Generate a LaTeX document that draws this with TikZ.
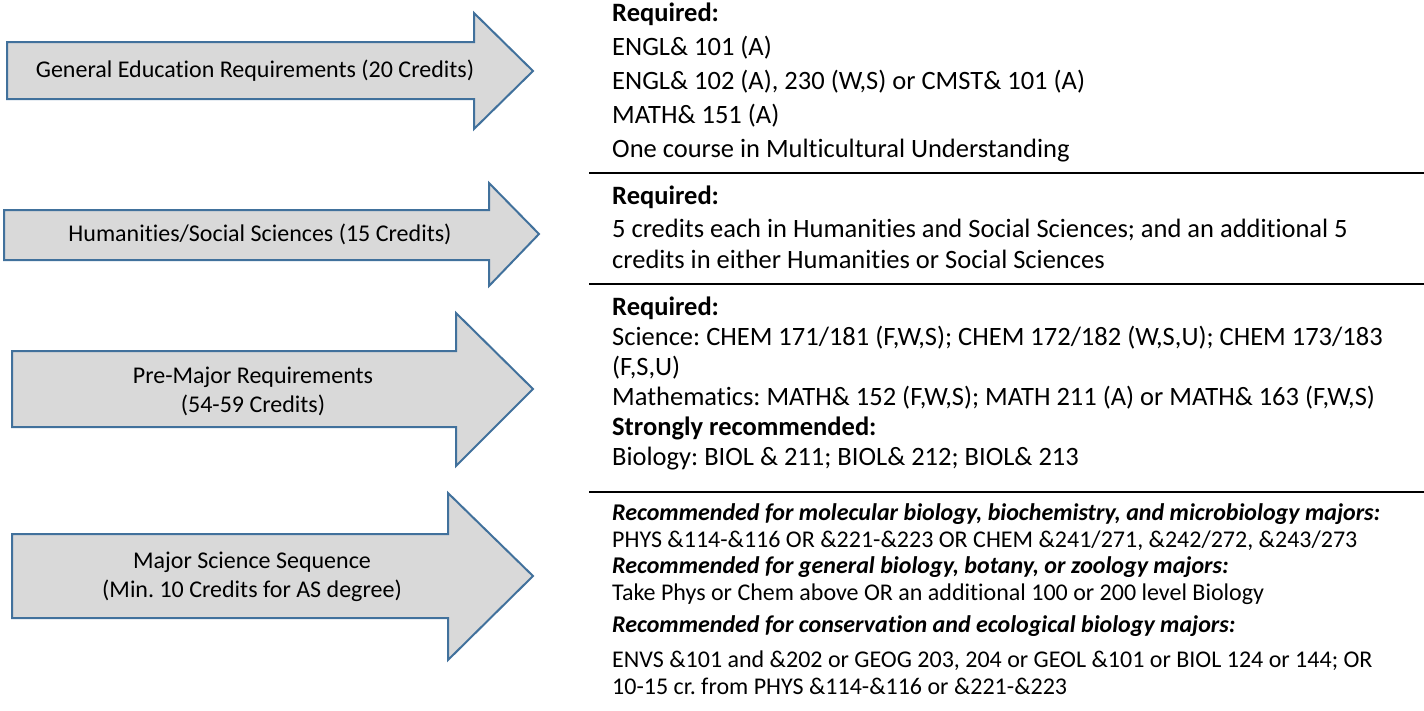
\documentclass[tikz,border=0pt]{standalone}
\usepackage{fontspec}
\setmainfont{Carlito}[Ligatures=CommonOff]
\usepackage{tikz}
\frenchspacing

\definecolor{arrowfill}{HTML}{D9D9D9}
\definecolor{arrowline}{HTML}{41719C}

\tikzset{
  reqarrow/.style={draw=arrowline, fill=arrowfill, line width=2pt, line join=miter},
  arrowtext/.style={align=center, inner sep=0pt, font=\fontsize{24}{29}\selectfont},
  reqtext/.style={anchor=base west, inner sep=0pt, font=\fontsize{26.5}{32}\selectfont},
  majortext/.style={anchor=base west, inner sep=0pt, font=\fontsize{24}{27}\selectfont},
  sepline/.style={line width=2.5pt}
}

\begin{document}
\begin{tikzpicture}[x=1pt,y=-1pt]
            \useasboundingbox (0,0) rectangle (1424,710);
            % arrows
            \draw [reqarrow] (7,42) -- (474,42) -- (474,13) -- (533,71) -- (474,129) -- (474,99) -- (7,99) -- cycle;
            \draw [reqarrow] (4,210) -- (489,210) -- (489,183) -- (539,234) -- (489,286) -- (489,260) -- (4,260) -- cycle;
            \draw [reqarrow] (12,351) -- (456,351) -- (456,313) -- (533,389) -- (456,466) -- (456,427) -- (12,427) -- cycle;
            \draw [reqarrow] (12,534) -- (448,534) -- (448,493) -- (533,576) -- (448,660) -- (448,618) -- (12,618) -- cycle;
            \node [arrowtext] (gened) at (255,71) {General Education Requirements (20 Credits)};
            \node [arrowtext] (humsoc) at (260,234) {Humanities/Social Sciences (15 Credits)};
            \node [arrowtext] (premajor) at (253,391) {Pre-Major Requirements\\(54-59 Credits)};
            \node [arrowtext] (majorseq) at (252,577) {Major Science Sequence\\(Min. 10 Credits for AS degree)};
            % separators
            \draw [sepline] (589,173) -- (1424,173);
            \draw [sepline] (589,284) -- (1424,284);
            \draw [sepline] (589,492) -- (1424,492);
            % general education
            \node [reqtext] (gen1) at (612,21) {\textbf{Required:}};
            \node [reqtext] (gen2) at (612,55) {ENGL\& 101 (A)};
            \node [reqtext] (gen3) at (612,89) {ENGL\& 102 (A), 230 (W,S) or CMST\& 101 (A)};
            \node [reqtext] (gen4) at (612,123) {MATH\& 151 (A)};
            \node [reqtext] (gen5) at (612,157) {One course in Multicultural Understanding};
            % humanities
            \node [reqtext] (hum1) at (612,204) {\textbf{Required:}};
            \node [reqtext] (hum2) at (612,237) {5 credits each in Humanities and Social Sciences; and an additional 5};
            \node [reqtext] (hum3) at (612,268) {credits in either Humanities or Social Sciences};
            % pre-major
            \node [reqtext] (pre1) at (612,315) {\textbf{Required:}};
            \node [reqtext] (pre2) at (612,345) {Science: CHEM 171/181 (F,W,S); CHEM 172/182 (W,S,U); CHEM 173/183};
            \node [reqtext] (pre3) at (612,375) {(F,S,U)};
            \node [reqtext] (pre4) at (612,405) {Mathematics: MATH\& 152 (F,W,S); MATH 211 (A) or MATH\& 163 (F,W,S)};
            \node [reqtext] (pre5) at (612,435) {\textbf{Strongly recommended:}};
            \node [reqtext] (pre6) at (612,465) {Biology: BIOL \& 211; BIOL\& 212; BIOL\& 213};
            % major sequence
            \node [majortext] (maj1) at (612,520) {\textbf{\textit{Recommended for molecular biology, biochemistry, and microbiology majors:}}};
            \node [majortext] (maj2) at (612,547) {PHYS \&114-\&116 OR \&221-\&223 OR CHEM \&241/271, \&242/272, \&243/273};
            \node [majortext] (maj3) at (612,573) {\textbf{\textit{Recommended for general biology, botany, or zoology majors:}}};
            \node [majortext] (maj4) at (612,600) {Take Phys or Chem above OR an additional 100 or 200 level Biology};
            \node [majortext] (maj5) at (612,632) {\textbf{\textit{Recommended for conservation and ecological biology majors:}}};
            \node [majortext] (maj6) at (612,667) {ENVS \&101 and \&202 or GEOG 203, 204 or GEOL \&101 or BIOL 124 or 144; OR};
            \node [majortext] (maj7) at (612,694) {10-15 cr. from PHYS \&114-\&116 or \&221-\&223};
\end{tikzpicture}
\end{document}
